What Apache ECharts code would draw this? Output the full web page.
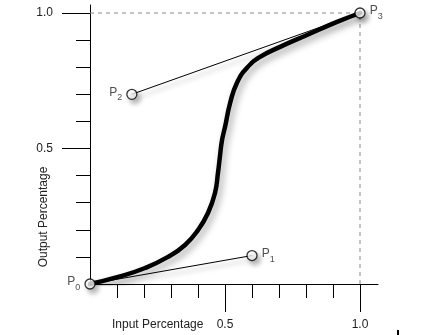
<!DOCTYPE html>
<html>
<head>
<meta charset="utf-8">
<script src="https://cdn.jsdelivr.net/npm/echarts@6/dist/echarts.min.js"></script>
<style>
  html, body { margin: 0; padding: 0; background: #fff; }
  #chart { width: 441px; height: 335px; }
</style>
</head>
<body>
<div id="chart"></div>
<script>
// Easing curve traced through the unit square
const curveX = [0, 0.104, 0.204, 0.289, 0.352, 0.400, 0.437, 0.463, 0.474, 0.481, 0.489, 0.500, 0.519, 0.544, 0.581, 0.630, 0.704, 0.804, 0.915, 1];
const curveY = [0, 0.026, 0.059, 0.100, 0.144, 0.199, 0.262, 0.336, 0.410, 0.469, 0.531, 0.579, 0.668, 0.742, 0.797, 0.838, 0.875, 0.919, 0.967, 1];

// Bezier control points P0..P3
const pointIndex = ['0', '1', '2', '3'];
const pointX = [0, 0.6, 0.155, 1];
const pointY = [0, 0.105, 0.7, 1];
const pointLabelSide = ['left', 'right', 'left', 'right'];

// Tick positions
const majorTicks = [0.5, 1.0];
const minorTicks = [0.1, 0.2, 0.3, 0.4, 0.6, 0.7, 0.8, 0.9];

const FONT = '"Liberation Sans", Arial, Helvetica, sans-serif';
const chart = echarts.init(document.getElementById('chart'), null, { renderer: 'canvas' });

function minorAxis(pos, max) {
  return {
    type: 'value', position: pos, min: 0, max: max,
    axisLine: { show: true, onZero: false, lineStyle: { color: '#000', width: 1 } },
    axisTick: { show: true, customValues: minorTicks, length: 14, lineStyle: { color: '#000', width: 1 } },
    axisLabel: { show: false },
    splitLine: { show: false }
  };
}
function majorAxis(pos, max, margin) {
  return {
    type: 'value', position: pos, min: 0, max: max,
    axisLine: { show: false, onZero: false },
    axisTick: { show: true, customValues: majorTicks, length: 28, lineStyle: { color: '#000', width: 1 } },
    axisLabel: {
      show: true, customValues: majorTicks, margin: margin,
      formatter: v => v.toFixed(1),
      color: '#222', fontSize: 12, fontFamily: FONT
    },
    splitLine: { show: false }
  };
}

const shadow = { shadowColor: 'rgba(0,0,0,0.35)', shadowBlur: 7, shadowOffsetX: 3, shadowOffsetY: 4 };

const controlData = pointX.map((x, i) => ({
  value: [x, pointY[i]],
  label: { position: pointLabelSide[i], formatter: '{p|P}{s|' + pointIndex[i] + '}' }
}));

chart.setOption({
  animation: false,
  backgroundColor: '#fff',
  grid: { left: 90, right: 63, top: 5, bottom: 51, containLabel: false },
  xAxis: [minorAxis('bottom', 288 / 270), majorAxis('bottom', 288 / 270, 35)],
  yAxis: [minorAxis('left', 279 / 271), majorAxis('left', 279 / 271, 37)],
  graphic: [
    { type: 'text', left: 112, top: 319, style: { text: 'Input Percentage', fill: '#222', font: '12px ' + FONT } },
    { type: 'text', x: 44, y: 217, rotation: Math.PI / 2,
      style: { text: 'Output Percentage', fill: '#222', font: '12px ' + FONT, align: 'center', verticalAlign: 'middle' } },
    { type: 'rect', shape: { x: 397, y: 330, width: 2, height: 5 }, style: { fill: '#000' } }
  ],
  series: [
    {
      type: 'line', data: [[0, 1], [1, 1]], symbol: 'none', silent: true,
      lineStyle: { color: '#8a8a8a', width: 1, type: [4, 4] }
    },
    {
      type: 'line', data: [[1, 0], [1, 1]], symbol: 'none', silent: true,
      lineStyle: { color: '#8a8a8a', width: 1, type: [4, 4] }
    },
    {
      type: 'line', data: [[pointX[0], pointY[0]], [pointX[1], pointY[1]]], symbol: 'none',
      lineStyle: Object.assign({ color: '#000', width: 1 }, shadow, { shadowBlur: 5 })
    },
    {
      type: 'line', data: [[pointX[2], pointY[2]], [pointX[3], pointY[3]]], symbol: 'none',
      lineStyle: Object.assign({ color: '#000', width: 1 }, shadow, { shadowBlur: 5 })
    },
    {
      type: 'line', data: curveX.map((x, i) => [x, curveY[i]]), symbol: 'none',
      smooth: 0.5,
      lineStyle: Object.assign({ color: '#000', width: 4.5, cap: 'round', join: 'round' }, shadow)
    },
    {
      type: 'scatter', data: controlData, symbol: 'circle', symbolSize: 10,
      itemStyle: Object.assign({ color: '#fff', borderColor: '#000', borderWidth: 1.3 }, shadow, { shadowBlur: 5 }),
      label: {
        show: true, distance: 4, color: '#222',
        rich: {
          p: { fontSize: 12, fontFamily: FONT, lineHeight: 13, verticalAlign: 'top', color: '#222' },
          s: { fontSize: 9, fontFamily: FONT, lineHeight: 16, verticalAlign: 'bottom', color: '#222' }
        }
      },
      z: 5
    }
  ]
});
</script>
</body>
</html>
